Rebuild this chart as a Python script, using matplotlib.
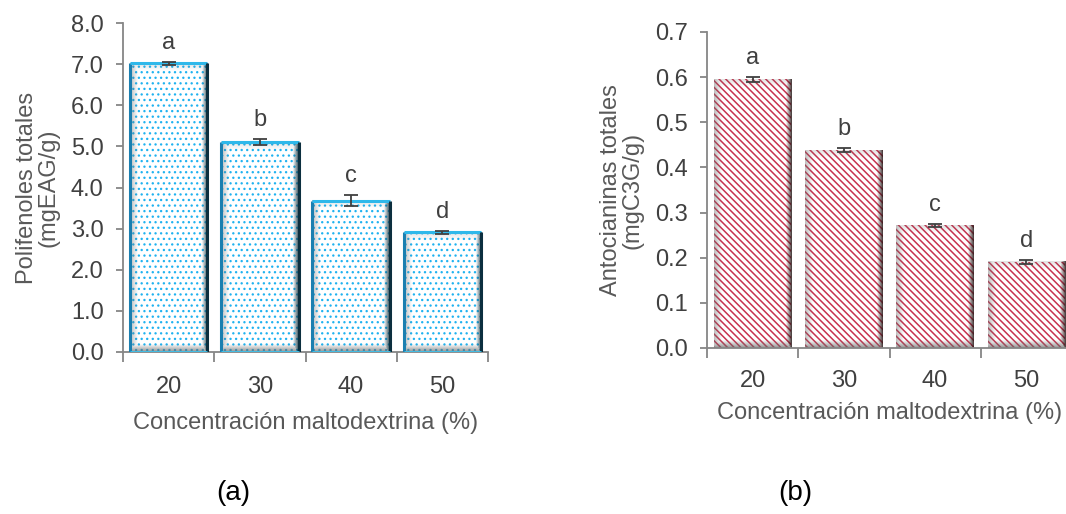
import numpy as np
import matplotlib
matplotlib.use("Agg")
import matplotlib.pyplot as plt
from matplotlib.patches import Rectangle

plt.rcParams["font.family"] = ["Liberation Sans", "DejaVu Sans"]

categories = ["20", "30", "40", "50"]
polifenoles = [7.02, 5.10, 3.68, 2.91]
polifenoles_err = [0.04, 0.07, 0.13, 0.03]
antocianinas = [0.595, 0.438, 0.272, 0.191]
antocianinas_err = [0.006, 0.004, 0.003, 0.004]
letters = ["a", "b", "c", "d"]

W, H = 1066, 514
fig = plt.figure(figsize=(W / 100, H / 100), dpi=100)

AX_COL = "#868686"
TXT = "#404040"
LAB = "#595959"
FS = 17
BAR_W = 0.85


def bevel(ax, x0, w, h, ppx, ppy, dark_right):
    """Soft bevel shading inside a bar (gray sides, dark right edge)."""
    nx = max(int(w * ppx), 2)
    ny = max(int(h * ppy), 2)
    xx = np.arange(nx)[None, :] + 0.5
    yy = np.arange(ny)[:, None] + 0.5  # row 0 at top
    b = 8.0
    left = np.broadcast_to(np.clip(1 - xx / b, 0, 1) * 0.45, (ny, nx))
    right = np.broadcast_to(np.clip(1 - (nx - xx) / 6.0, 0, 1) * 0.9, (ny, nx))
    top = np.broadcast_to(np.clip(1 - yy / b, 0, 1) * 0.2, (ny, nx))
    bottom = np.broadcast_to(np.clip(1 - (ny - yy) / b, 0, 1) * 0.75, (ny, nx))
    a = np.maximum.reduce([left, right, top, bottom])
    img = np.zeros((ny, nx, 4))
    img[..., :3] = matplotlib.colors.to_rgb("#6a6a6a")
    mask_r = right >= a - 1e-9
    img[mask_r & (a > 0), :3] = matplotlib.colors.to_rgb(dark_right)
    img[..., 3] = a
    ax.imshow(img, extent=(x0, x0 + w, 0, h), aspect="auto",
              interpolation="bilinear", zorder=2.5, origin="upper")


def panel(rect, values, errs, ymax, ystep, ylabel, hatch, hcolor, hlw,
          edges, dark_right, xpad, xlabelpad):
    ax = fig.add_axes(rect)
    x = np.arange(len(values))
    ax.set_xlim(-0.5, len(values) - 0.5)
    ax.set_ylim(0, ymax)
    ppx = rect[2] * W / len(values)
    ppy = rect[3] * H / ymax
    for i, v in enumerate(values):
        x0 = x[i] - BAR_W / 2
        ax.add_patch(Rectangle((x0, 0), BAR_W, v, facecolor="white",
                               edgecolor="none", zorder=2))
        bevel(ax, x0, BAR_W, v, ppx, ppy, dark_right)
        with plt.rc_context({"hatch.linewidth": hlw}):
            hp = Rectangle((x0, 0), BAR_W, v, facecolor="none",
                           edgecolor=hcolor, linewidth=0, hatch=hatch,
                           zorder=2.4)
        ax.add_patch(hp)
        if edges:
            ax.plot([x0, x0], [0, v], color="#1b7fb0", lw=2.2, zorder=3,
                    solid_capstyle="butt")
            ax.plot([x0, x0 + BAR_W], [v, v], color="#2fb8ea", lw=2.2,
                    zorder=3, solid_capstyle="butt")
            ax.plot([x0 + BAR_W, x0 + BAR_W], [0, v], color="#0c2f3f",
                    lw=2.2, zorder=3, solid_capstyle="butt")
            ax.plot([x0, x0 + BAR_W], [0, 0], color="#3cc4f0", lw=2.0,
                    zorder=3.1, solid_capstyle="butt")
    ax.errorbar(x, values, yerr=errs, fmt="none", ecolor=TXT, elinewidth=1.3,
                capsize=5, capthick=1.3, zorder=4)
    off = 8 / ppy
    for i, v in enumerate(values):
        ax.text(x[i], v + errs[i] + off, letters[i], ha="center", va="bottom",
                fontsize=FS, color=TXT)

    ax.set_xticks(np.arange(-0.5, len(values), 1.0))
    ax.set_xticklabels([])
    ax.set_xticks(x, minor=True)
    ax.set_xticklabels(categories, minor=True)
    ax.tick_params(axis="x", which="major", direction="out", length=7,
                   width=1.3, color=AX_COL)
    ax.tick_params(axis="x", which="minor", length=0, pad=xpad, labelsize=FS,
                   labelcolor=TXT)
    yt = np.round(np.arange(0, ymax + ystep / 2, ystep), 3)
    ax.set_yticks(yt)
    ax.set_yticklabels(["{:.1f}".format(t) for t in yt])
    ax.tick_params(axis="y", direction="out", length=5, width=1.3,
                   color=AX_COL, pad=9, labelsize=FS, labelcolor=TXT)
    for s in ("top", "right"):
        ax.spines[s].set_visible(False)
    for s in ("left", "bottom"):
        ax.spines[s].set_color(AX_COL)
        ax.spines[s].set_linewidth(1.3)
    ax.set_xlabel("Concentración maltodextrina (%)", fontsize=FS, color=LAB,
                  labelpad=xlabelpad)
    ax.set_ylabel(ylabel, fontsize=FS, color=LAB, labelpad=8,
                  linespacing=1.0)
    ax.patch.set_visible(False)
    return ax


ax1 = panel([123 / W, 1 - 352 / H, 365 / W, 329 / H], polifenoles,
            polifenoles_err, 8.0, 1.0, "Polifenoles totales\n(mgEAG/g)",
            "...", "#1fb2f0", 0.9, True, "#15333f", 17, 10)

ax2 = panel([707 / W, 1 - 348 / H, 365 / W, 316 / H], antocianinas,
            antocianinas_err, 0.7, 0.1, "Antocianinas totales\n(mgC3G/g)",
            "\\" * 5, "#c8324f", 1.1, False, "#2a1a1a", 16, 7)

fig.text(233 / W, 1 - 493 / H, "(a)", ha="center", va="center", fontsize=20,
         color="black")
fig.text(795 / W, 1 - 493 / H, "(b)", ha="center", va="center", fontsize=20,
         color="black")

fig.savefig("out.png", dpi=100)
